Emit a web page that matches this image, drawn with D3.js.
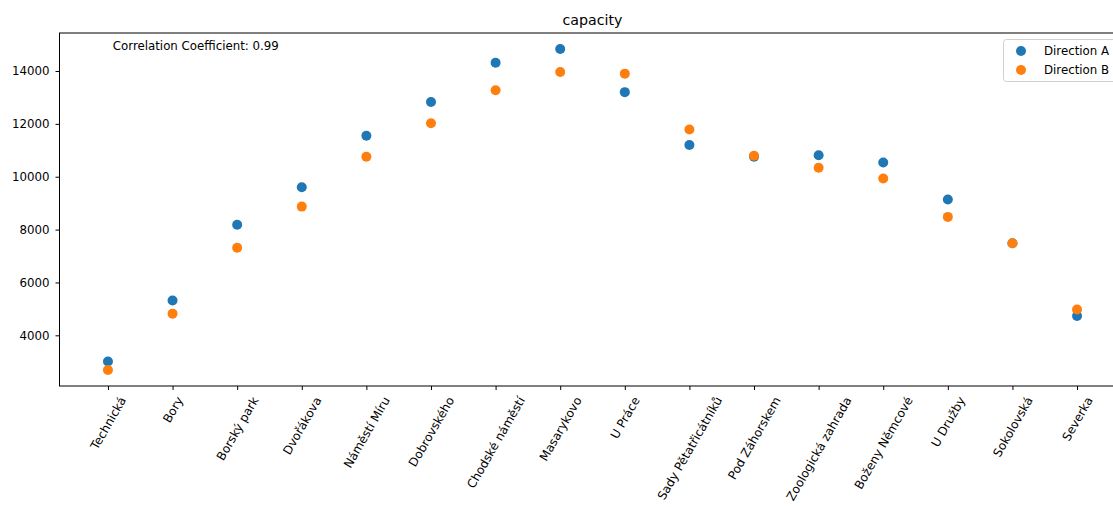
<!DOCTYPE html>
<html>
<head>
<meta charset="utf-8">
<script src="https://cdn.jsdelivr.net/npm/d3@7"></script>
<style>
  html, body { margin: 0; padding: 0; background: #fff; }
  svg { display: block; font-family: "DejaVu Sans", sans-serif; }
</style>
</head>
<body>
<svg id="chart" width="1113" height="507"></svg>
<script>
const categories = ["Technická", "Bory", "Borský park", "Dvořákova", "Náměstí Míru", "Dobrovského",
  "Chodské náměstí", "Masarykovo", "U Práce", "Sady Pětatřicátníků", "Pod Záhorskem",
  "Zoologická zahrada", "Boženy Němcové", "U Družby", "Sokolovská", "Severka"];
const directionA = [3010, 5320, 8180, 9600, 11550, 12830, 14310, 14830, 13200, 11200, 10755, 10810, 10540, 9140, 7480, 4730];
const directionB = [2690, 4820, 7310, 8870, 10755, 12025, 13270, 13960, 13900, 11785, 10795, 10340, 9935, 8480, 7480, 4980];
const yTicks = [4000, 6000, 8000, 10000, 12000, 14000];
const seriesNames = ["Direction A", "Direction B"];
const colors = ["#1f77b4", "#ff7f0e"];
const title = "capacity";
const corrText = "Correlation Coefficient: 0.99";

(function() {
const svg = d3.select("#chart");
const mLeft = 59.5, mRight = 1125.5, mTop = 33, mBottom = 386;
const fs = 11.8;

const n = categories.length;
const x = d3.scaleLinear().domain([-0.75, n - 1 + 0.75]).range([mLeft, mRight]);
const allVals = directionA.concat(directionB);
const mn = d3.min(allVals), mx = d3.max(allVals), pad = (mx - mn) * 0.05;
const y = d3.scaleLinear().domain([mn - pad, mx + pad]).range([mBottom, mTop]);

// Title
svg.append("text").attr("x", (mLeft + mRight) / 2).attr("y", 25)
  .attr("text-anchor", "middle").attr("font-size", 14.2).attr("fill", "#000").text(title);

// Points
[directionA, directionB].forEach((arr, si) => {
  svg.append("g").selectAll("circle").data(arr).join("circle")
    .attr("cx", (d, i) => x(i)).attr("cy", d => y(d)).attr("r", 5)
    .attr("fill", colors[si]);
});

// Y axis
const yAxis = d3.axisLeft(y).tickValues(yTicks).tickSize(4).tickPadding(6).tickFormat(d3.format("d"));
const gy = svg.append("g").attr("transform", `translate(${mLeft},0)`).call(yAxis);
gy.select(".domain").remove();
gy.selectAll("text").attr("font-size", fs).attr("font-family", "DejaVu Sans").attr("fill", "#000");
gy.selectAll("line").attr("stroke", "#000").attr("stroke-width", 1);

// X axis
const xAxis = d3.axisBottom(x).tickValues(d3.range(n)).tickSize(4).tickFormat(i => categories[i]);
const gx = svg.append("g").attr("transform", `translate(0,${mBottom})`).call(xAxis);
gx.select(".domain").remove();
gx.selectAll("line").attr("stroke", "#000").attr("stroke-width", 1);
gx.selectAll("text").each(function(i) {
  const t = d3.select(this);
  t.attr("font-size", 12).attr("font-family", "DejaVu Sans").attr("fill", "#000")
   .attr("dy", null).attr("y", null);
  const L = this.getComputedTextLength();
  const h = 12 * 1.15;
  const a = Math.PI / 3;
  const bh = L * Math.sin(a) + h * Math.cos(a);
  const cy = 4 + 4.5 + bh / 2;
  t.attr("text-anchor", "middle").attr("dominant-baseline", "central")
   .attr("x", 0).attr("y", 0)
   .attr("transform", `translate(0,${cy}) rotate(-60)`);
});

// Frame
svg.append("rect").attr("x", mLeft).attr("y", mTop).attr("width", mRight - mLeft).attr("height", mBottom - mTop)
  .attr("fill", "none").attr("stroke", "#000").attr("stroke-width", 1);

// Correlation text
svg.append("text").attr("x", mLeft + 0.05 * (mRight - mLeft)).attr("y", 50)
  .attr("font-size", fs).attr("fill", "#000").text(corrText);

// Legend
const lg = svg.append("g");
lg.append("rect").attr("x", 1003.5).attr("y", 39.5).attr("width", 140).attr("height", 42)
  .attr("rx", 3).attr("fill", "#fff").attr("fill-opacity", 0.8).attr("stroke", "#d0d0d0");
seriesNames.forEach((s, i) => {
  lg.append("circle").attr("cx", 1021).attr("cy", 51 + i * 19).attr("r", 5).attr("fill", colors[i]);
  lg.append("text").attr("x", 1044).attr("y", 51 + i * 19).attr("dominant-baseline", "central")
    .attr("font-size", fs).attr("fill", "#000").text(s);
});
})();
</script>
</body>
</html>
